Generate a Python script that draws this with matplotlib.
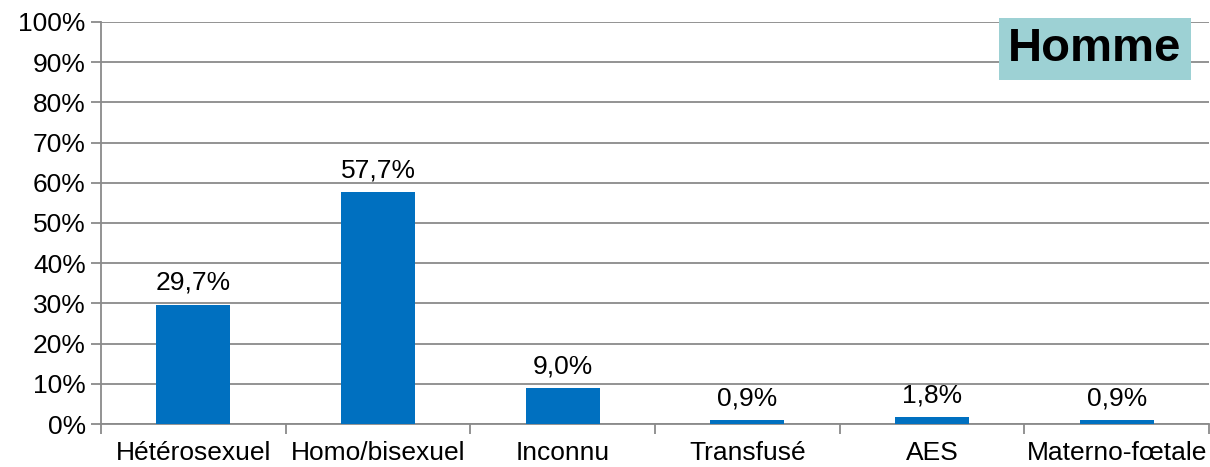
import matplotlib.pyplot as plt
from matplotlib.ticker import PercentFormatter

plt.rcParams['font.family'] = ['Liberation Sans', 'DejaVu Sans']

categories = ['Hétérosexuel', 'Homo/bisexuel', 'Inconnu', 'Transfusé', 'AES', 'Materno-fœtale']
values = [29.7, 57.7, 9.0, 0.9, 1.8, 0.9]
labels = ['29,7%', '57,7%', '9,0%', '0,9%', '1,8%', '0,9%']

fig = plt.figure(figsize=(12.1, 4.67), dpi=100)
ax = fig.add_axes([101 / 1210, 1 - 424 / 467, 1108 / 1210, 402 / 467])

x = range(len(categories))
ax.bar(x, values, width=0.4, color='#0070C0', zorder=3)
for i, v in enumerate(values):
    ax.annotate(labels[i], (i, v), xytext=(0, 7), textcoords='offset points',
                ha='center', va='bottom', fontsize=19)

ax.set_ylim(0, 100)
ax.set_xlim(-0.5, len(categories) - 0.5)
ax.set_yticks(range(0, 101, 10))
ax.yaxis.set_major_formatter(PercentFormatter(decimals=0))
ax.grid(axis='y', color='#8a8a8a', linewidth=1.3, zorder=0)

ax.set_xticks([i - 0.5 for i in range(len(categories) + 1)], minor=False)
ax.set_xticklabels([])
ax.set_xticks(list(x), minor=True)
ax.set_xticklabels(categories, minor=True, fontsize=19)
ax.tick_params(axis='x', which='minor', length=0, pad=12)
ax.tick_params(axis='x', which='major', length=7, color='#8a8a8a', width=1.3)
ax.tick_params(axis='y', length=7, color='#8a8a8a', width=1.3, labelsize=19, pad=4)

for s in ['top', 'right']:
    ax.spines[s].set_visible(False)
for s in ['left', 'bottom']:
    ax.spines[s].set_color('#8a8a8a')
    ax.spines[s].set_linewidth(1.3)

fig.text(1095 / 1210, 1 - 49 / 467, 'Homme', fontsize=34, fontweight='bold',
         ha='center', va='center',
         bbox=dict(boxstyle='square,pad=0.2', facecolor='#9DD1D4', edgecolor='none'))

fig.savefig('out.png', dpi=100)
